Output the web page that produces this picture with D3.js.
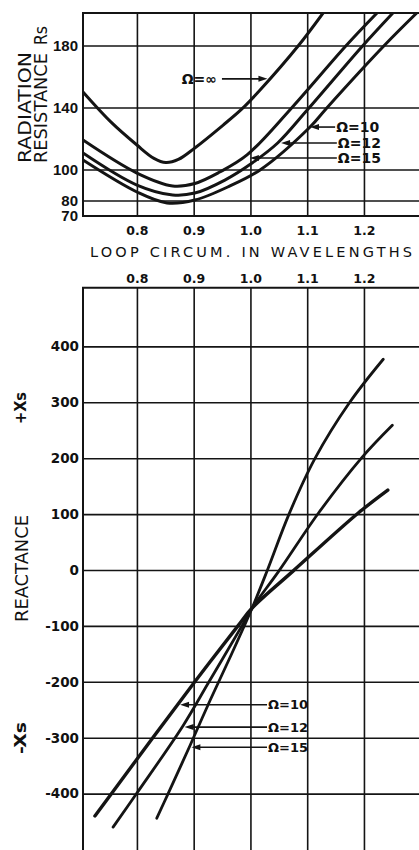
<!DOCTYPE html>
<html><head><meta charset="utf-8">
<script src="https://cdn.jsdelivr.net/npm/d3@7"></script>
<style>
html,body{margin:0;padding:0;background:#fff;}
svg{display:block;}
text{fill:#111;}
</style></head><body>
<script>
// ---------- data ----------
const circumTicks = [0.8, 0.9, 1.0, 1.1, 1.2];
const circumTickLabels = ["0.8", "0.9", "1.0", "1.1", "1.2"];
const resGrid = [80, 100, 140, 180];
const resTickValues = [70, 80, 100, 140, 180];
const resTickLabels = ["70", "80", "100", "140", "180"];
const reactTicks = [400, 300, 200, 100, 0, -100, -200, -300, -400];
const reactTickLabels = ["400", "300", "200", "100", "0", "-100", "-200", "-300", "-400"];

// radiation resistance Rs vs loop circumference (wavelengths)
const resInfC = [0.705, 0.754, 0.8, 0.83, 0.851, 0.873, 0.902, 0.952, 0.985, 1.017, 1.084, 1.128];
const resInfV = [150, 130.7, 115.8, 107.2, 104.5, 106.5, 113.9, 128.7, 139.1, 151.3, 179.7, 201];
const res15C = [0.705, 0.8, 0.863, 0.902, 0.946, 0.994, 1.071, 1.168, 1.223];
const res15V = [119, 97.7, 89.4, 91, 98.4, 109.4, 139.1, 179.7, 201];
const res12C = [0.705, 0.8, 0.863, 0.902, 0.955, 1.003, 1.048, 1.1, 1.196, 1.251];
const res12V = [110.7, 90, 83.6, 84.8, 93.2, 104.2, 117.1, 138.4, 179.1, 201];
const res10C = [0.705, 0.8, 0.853, 0.902, 0.964, 1.017, 1.105, 1.133, 1.235, 1.293];
const res10V = [106.1, 85.5, 78.4, 80.3, 89.4, 99.7, 127.4, 139.1, 179.7, 201];

// reactance Xs vs loop circumference
const x10C = [0.726, 0.756, 0.828, 0.902, 0.978, 1.003, 1.075, 1.19, 1.242];
const x10V = [-440, -399, -300, -200, -100, -68, -2, 102, 143];
const x12C = [0.758, 0.8, 0.881, 0.927, 0.985, 1.003, 1.05, 1.12, 1.197, 1.25];
const x12V = [-460, -399, -279, -200, -100, -68, -2, 102, 202, 259];
const x15C = [0.835, 0.855, 0.894, 0.929, 0.966, 1.003, 1.030, 1.068, 1.114, 1.175, 1.234];
const x15V = [-444, -400, -313, -233, -152, -68, 0, 100, 200, 300, 377];

// annotation labels
const resLabels = ["Ω=∞", "Ω=10", "Ω=12", "Ω=15"];
const resLabelAt = [[0.941, 158.5], [1.151, 127.4], [1.154, 117.1], [1.154, 107.4]];
const resArrowTip = [1.030, 1.105, 1.054, 0.999];
const reactLabels = ["Ω=10", "Ω=12", "Ω=15"];
const reactLabelAt = [[1.031, -241], [1.031, -281], [1.031, -317]];
const reactArrowTip = [0.876, 0.884, 0.896];

// ---------- drawing ----------
const W = 419, H = 850;
const svg = d3.select("body").append("svg").attr("width", W).attr("height", H);
const ink = "#141414";
const tickFont = '"Liberation Sans", Arial, sans-serif';
const dvFont = '"DejaVu Sans", sans-serif';

const xT = d3.scaleLinear().domain([0.705, 1.297]).range([83, 419]);
const yT = d3.scaleLinear().domain([70, 201]).range([216, 13]);
const xB = xT.copy();
const yB = d3.scaleLinear().domain([-505, 505]).range([852.3, 287.7]);

const defs = svg.append("defs");
defs.append("clipPath").attr("id", "clipT").append("rect")
  .attr("x", xT(0.705)).attr("y", yT(201)).attr("width", 400).attr("height", yT(70) - yT(201));
defs.append("clipPath").attr("id", "clipB").append("rect")
  .attr("x", xB(0.705)).attr("y", yB(505)).attr("width", 400).attr("height", 600);

function styleGrid(g, w) {
  g.select(".domain").remove();
  g.selectAll(".tick line").attr("stroke", ink).attr("stroke-width", w);
}

// ===== TOP CHART =====
const topG = svg.append("g");
topG.append("g").attr("transform", `translate(0,${yT(70)})`)
  .call(d3.axisBottom(xT).tickValues(circumTicks).tickSize(-(yT(70) - yT(201))).tickFormat(""))
  .call(g => styleGrid(g, 1.6));
topG.append("g").attr("transform", `translate(${xT(0.705)},0)`)
  .call(d3.axisLeft(yT).tickValues(resGrid).tickSize(-(W - xT(0.705) + 5)).tickFormat(""))
  .call(g => styleGrid(g, 1.6));
topG.append("path")
  .attr("d", `M${W + 5},${yT(201)}H${xT(0.705)}V${yT(70)}H${W + 5}`)
  .attr("fill", "none").attr("stroke", ink).attr("stroke-width", 2);
topG.append("g").attr("transform", `translate(${xT(0.705)},0)`)
  .call(d3.axisLeft(yT).tickValues(resTickValues).tickSize(0).tickPadding(5)
    .tickFormat(d => resTickLabels[resTickValues.indexOf(d)]))
  .call(g => { g.select(".domain").remove();
    g.selectAll("text").attr("font-family", tickFont).attr("font-weight", "bold")
      .attr("font-size", 15).attr("fill", ink); });
topG.append("g").attr("transform", `translate(0,230)`)
  .call(d3.axisBottom(xT).tickValues(circumTicks).tickSize(0)
    .tickFormat((d, i) => circumTickLabels[i]))
  .call(g => { g.select(".domain").remove();
    g.selectAll("text").attr("y", 0).attr("dy", "0.36em").attr("font-family", dvFont)
      .attr("font-weight", "bold").attr("font-size", 12.5).attr("fill", ink); });

const lineT = d3.line().x(d => xT(d[0])).y(d => yT(d[1])).curve(d3.curveCatmullRom.alpha(0.5));
const resSeries = [[resInfC, resInfV], [res15C, res15V], [res12C, res12V], [res10C, res10V]];
const curvesT = topG.append("g").attr("clip-path", "url(#clipT)");
resSeries.forEach(([c, v]) => {
  curvesT.append("path").attr("d", lineT(c.map((d, i) => [d, v[i]])))
    .attr("fill", "none").attr("stroke", ink).attr("stroke-width", 3).attr("stroke-linecap", "round");
});

function arrow(g, x1, x2, y, dir) {
  g.append("line").attr("x1", x1).attr("x2", x2 - dir * 6).attr("y1", y).attr("y2", y)
    .attr("stroke", ink).attr("stroke-width", 1.6);
  g.append("path").attr("d", `M${x2},${y}L${x2 - dir * 9},${y - 3}L${x2 - dir * 9},${y + 3}Z`)
    .attr("fill", ink);
}

const annT = topG.append("g");
resLabels.forEach((lab, i) => {
  const [cx, cy] = resLabelAt[i];
  const x = xT(cx), y = yT(cy);
  if (i === 0) {
    annT.append("text").attr("x", x).attr("y", y).attr("dy", "0.36em").attr("text-anchor", "end")
      .attr("font-family", dvFont).attr("font-weight", "bold").attr("font-size", 14).text(lab);
    arrow(annT, x + 5, xT(resArrowTip[i]), y, 1);
  } else {
    annT.append("text").attr("x", x).attr("y", y).attr("dy", "0.36em")
      .attr("font-family", dvFont).attr("font-weight", "bold").attr("font-size", 14).text(lab);
    arrow(annT, x - 1, xT(resArrowTip[i]), y, -1);
  }
});

function vtext(x, y, str, size, len, weight) {
  const t = svg.append("text").attr("transform", `translate(${x},${y}) rotate(-90)`)
    .attr("font-family", dvFont).attr("font-size", size).attr("font-weight", weight || "normal")
    .text(str);
  if (len) t.attr("textLength", len).attr("lengthAdjust", "spacingAndGlyphs");
  return t;
}
vtext(30.5, 163, "RADIATION", 17, 111);
vtext(46.5, 163, "RESISTANCE", 17, 110);
vtext(46.5, 45, "Rs", 17, 19);

svg.append("text").attr("x", 251).attr("y", 252).attr("dy", "0.36em").attr("text-anchor", "middle")
  .attr("font-family", dvFont).attr("font-size", 14.5).attr("textLength", 322)
  .attr("lengthAdjust", "spacing").text("LOOP CIRCUM. IN WAVELENGTHS");

// ===== BOTTOM CHART =====
const botG = svg.append("g");
botG.append("g").attr("transform", `translate(0,${yB(505)})`)
  .call(d3.axisTop(xB).tickValues(circumTicks).tickSize(-(yB(-505) - yB(505))).tickFormat(""))
  .call(g => styleGrid(g, 1.6));
botG.append("g").attr("transform", `translate(${xB(0.705)},0)`)
  .call(d3.axisLeft(yB).tickValues(reactTicks).tickSize(-(W - xB(0.705) + 5)).tickFormat(""))
  .call(g => styleGrid(g, 1.6));
botG.append("path")
  .attr("d", `M${W + 5},${yB(505)}H${xB(0.705)}V${H + 5}`)
  .attr("fill", "none").attr("stroke", ink).attr("stroke-width", 2);
botG.append("g").attr("transform", `translate(${xB(0.705)},0)`)
  .call(d3.axisLeft(yB).tickValues(reactTicks).tickSize(0).tickPadding(4)
    .tickFormat((d, i) => reactTickLabels[i]))
  .call(g => { g.select(".domain").remove();
    g.selectAll("text").attr("font-family", dvFont).attr("font-weight", "bold")
      .attr("font-size", 13.5).attr("fill", ink); });
botG.append("g").attr("transform", `translate(0,278)`)
  .call(d3.axisTop(xB).tickValues(circumTicks).tickSize(0)
    .tickFormat((d, i) => circumTickLabels[i]))
  .call(g => { g.select(".domain").remove();
    g.selectAll("text").attr("y", 0).attr("dy", "0.36em").attr("font-family", dvFont)
      .attr("font-weight", "bold").attr("font-size", 12.5).attr("fill", ink); });

const lineB = d3.line().x(d => xB(d[0])).y(d => yB(d[1])).curve(d3.curveCatmullRom.alpha(0.5));
const reactSeries = [[x10C, x10V, 3.4], [x12C, x12V, 2.8], [x15C, x15V, 2.8]];
const curvesB = botG.append("g").attr("clip-path", "url(#clipB)");
reactSeries.forEach(([c, v, w]) => {
  curvesB.append("path").attr("d", lineB(c.map((d, i) => [d, v[i]])))
    .attr("fill", "none").attr("stroke", ink).attr("stroke-width", w).attr("stroke-linecap", "round");
});

const annB = botG.append("g");
reactLabels.forEach((lab, i) => {
  const [cx, cy] = reactLabelAt[i];
  const x = xB(cx), y = yB(cy);
  annB.append("text").attr("x", x).attr("y", y).attr("dy", "0.36em")
    .attr("font-family", dvFont).attr("font-weight", "bold").attr("font-size", 13).text(lab);
  arrow(annB, x - 1, xB(reactArrowTip[i]), y, -1);
});

vtext(25.5, 424, "+Xs", 16, 32, "bold");
vtext(27.5, 622, "REACTANCE", 17, 107);
vtext(25.5, 754, "-Xs", 16, 32, "bold");
</script>
</body></html>
